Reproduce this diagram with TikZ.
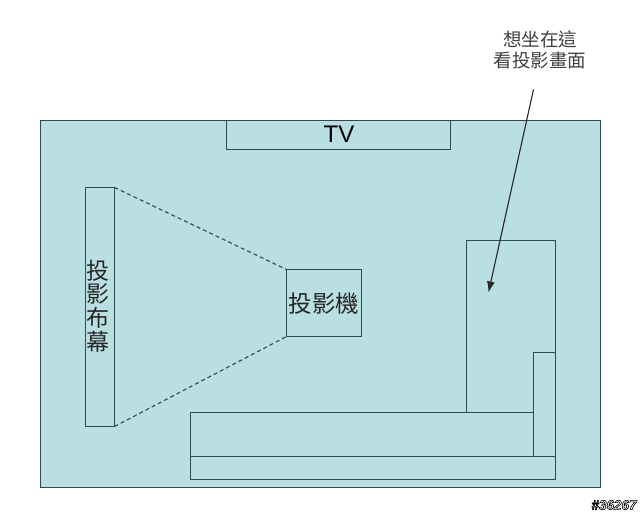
\documentclass[tikz,border=0pt]{standalone}
\usepackage{fontspec}
\usetikzlibrary{arrows.meta}
\setmainfont{Liberation Sans}
\newfontfamily\cjk{Noto Sans CJK TC}
\definecolor{roomfill}{HTML}{B9DFE3}
\definecolor{edge}{HTML}{2F4A50}
\tikzset{
  x=1pt,y=-1pt,
  boxed/.style={draw=edge,line width=1.1pt},
  cjklabel/.style={font=\cjk\fontsize{23.5}{25}\selectfont,inner sep=0pt,text=black!85},
  notelabel/.style={font=\cjk\fontsize{18.5}{21}\selectfont,inner sep=0pt,align=center,text=black!75},
  projray/.style={draw=edge,line width=1.1pt,dash pattern=on 4pt off 3pt},
}
\begin{document}
\begin{tikzpicture}
\useasboundingbox (0,0) rectangle (640,513);
\fill[white] (0,0) rectangle (640,513);
\begin{scope}[shift={(0.5,0.5)}]
\draw[boxed,fill=roomfill] (40,120) rectangle (600,487);
\draw[boxed] (226,120) rectangle (450,149);
\node[inner sep=0pt,font=\fontsize{24}{26}\selectfont] (tv) at (338.5,134) {TV};
\draw[boxed] (85,187) rectangle (114,426);
\coordinate (s1) at (114,187);
\coordinate (s2) at (114,426);
\node[cjklabel,align=center,font=\cjk\fontsize{23}{23.6}\selectfont] (screen) at (97.5,305.5) {投\\影\\布\\幕};
\draw[boxed] (286,269) rectangle (361,336);
\coordinate (p1) at (286,269);
\coordinate (p2) at (286,336);
\node[cjklabel] (proj) at (323.5,303.5) {投影機};
\draw[projray] (s1) -- (p1);
\draw[projray] (s2) -- (p2);
\draw[boxed] (466,412) -- (466,240) -- (555,240) -- (555,352);
\draw[boxed] (190,456) -- (190,412) -- (533,412);
\draw[boxed] (190,456) rectangle (555,479);
\draw[boxed] (533,456) -- (533,352) -- (555,352) -- (555,456);
\node[notelabel] (note) at (539.5,49.5) {想坐在這\\看投影畫面};
\coordinate (tail) at (533,89);
\coordinate (head) at (488,292);
\draw[line width=1.1pt,draw=black!85,-{Latex[length=11pt,width=8pt]}] (tail) -- (head);
\end{scope}
\node[inner sep=0pt,font=\fontsize{13.5}{14}\bfseries\itshape\selectfont] (wm) at (614,505) {\special{pdf:code 2 Tr 0.6 w 0 0 0 RG 1 1 1 rg}\#36267\special{pdf:code 0 Tr}};
\end{tikzpicture}
\end{document}
